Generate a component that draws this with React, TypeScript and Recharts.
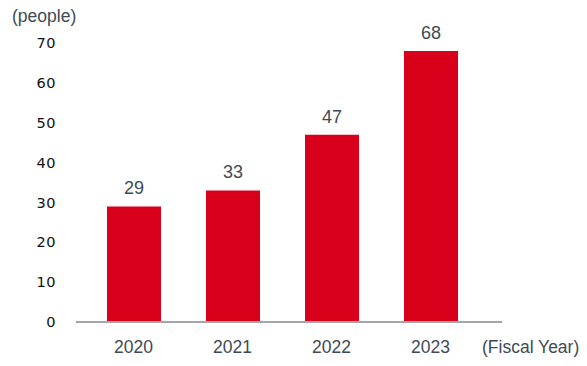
import { BarChart, Bar, XAxis, YAxis, LabelList } from 'recharts';

const years = ['2020', '2021', '2022', '2023'];
const people = [29, 33, 47, 68];
const yTicks = [0, 10, 20, 30, 40, 50, 60, 70];

const data = years.map((year, i) => ({ year, people: people[i] }));

const FONT = '"Liberation Sans", Arial, sans-serif';
const TEXT = '#404a55';

export default function App() {
  return (
    <div style={{ position: 'absolute', left: 0, top: 0, width: 587, height: 366, background: '#fff' }}>
      <div
        style={{
          position: 'absolute',
          left: 12,
          top: 6,
          fontFamily: FONT,
          fontSize: 17.5,
          lineHeight: '20px',
          color: TEXT,
        }}
      >
        (people)
      </div>
      <BarChart width={587} height={366} data={data} margin={{ top: 43, right: 85, left: 0, bottom: 0 }}>
        <XAxis
          dataKey="year"
          height={44}
          padding={{ left: 8, right: 22 }}
          axisLine={{ stroke: '#a3a7ab', strokeWidth: 2 }}
          tickLine={false}
          tickMargin={13}
          tick={{ fontSize: 17.5, fill: TEXT, fontFamily: FONT }}
          label={{
            value: '(Fiscal Year)',
            position: 'right',
            offset: -20,
            dy: 3,
            fontSize: 17.5,
            fill: TEXT,
            fontFamily: FONT,
          }}
        />
        <YAxis
          width={76}
          domain={[0, 70]}
          ticks={yTicks}
          axisLine={false}
          tickLine={false}
          tickMargin={14}
          tick={{ fontSize: 14.5, fill: '#111', fontFamily: '"DejaVu Sans", sans-serif', letterSpacing: 0.5 }}
        />
        <Bar dataKey="people" fill="#d9001b" barSize={54} isAnimationActive={false}>
          <LabelList dataKey="people" position="top" offset={12} fontSize={18} fill={TEXT} fontFamily={FONT} />
        </Bar>
      </BarChart>
    </div>
  );
}
